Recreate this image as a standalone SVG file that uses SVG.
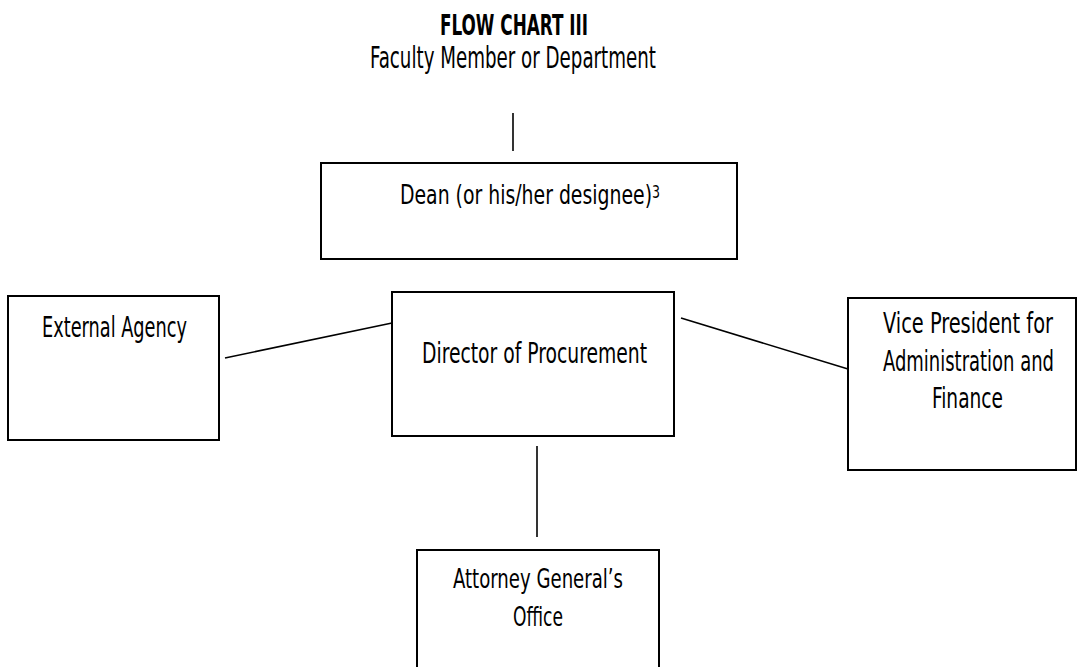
<svg xmlns="http://www.w3.org/2000/svg" width="1077" height="667" viewBox="0 0 1077 667">
<style>
  .box { fill: #ffffff; stroke: #000000; stroke-width: 2; }
  .conn { stroke: #000000; stroke-width: 1.6; fill: none; }
  .t { font-family: "Liberation Sans Narrow", "DejaVu Sans Condensed", "Liberation Sans", sans-serif; font-size: 21px; fill: #000000; }
  .title { font-weight: bold; font-size: 19px; }
  .sup { font-size: 14px; }
</style>
<rect x="0" y="0" width="1077" height="667" fill="#ffffff"/>
<g id="title">
  <text class="t title" transform="translate(440 35) scale(1 1.45)" textLength="148" lengthAdjust="spacingAndGlyphs">FLOW CHART III</text>
</g>
<g id="faculty">
  <text class="t" transform="translate(370 68) scale(1 1.42)" textLength="286" lengthAdjust="spacingAndGlyphs">Faculty Member or Department</text>
</g>
<g id="dean">
  <rect class="box" x="321" y="163" width="416" height="96"/>
  <text class="t" transform="translate(400 204) scale(1 1.27)" textLength="260" lengthAdjust="spacingAndGlyphs">Dean (or his/her designee)<tspan class="sup" dy="-4.5">3</tspan></text>
</g>
<g id="external">
  <rect class="box" x="8" y="296" width="211" height="144"/>
  <text class="t" transform="translate(42 337) scale(1 1.37)" textLength="145" lengthAdjust="spacingAndGlyphs">External Agency</text>
</g>
<g id="director">
  <rect class="box" x="392" y="292" width="282" height="144"/>
  <text class="t" transform="translate(422 363) scale(1 1.37)" textLength="225" lengthAdjust="spacingAndGlyphs">Director of Procurement</text>
</g>
<g id="vp">
  <rect class="box" x="848" y="298" width="228" height="172"/>
  <text class="t" transform="translate(883 333) scale(1 1.38)" textLength="170" lengthAdjust="spacingAndGlyphs">Vice President for</text>
  <text class="t" transform="translate(883 371) scale(1 1.38)" textLength="171" lengthAdjust="spacingAndGlyphs">Administration and</text>
  <text class="t" transform="translate(932 408) scale(1 1.38)" textLength="71" lengthAdjust="spacingAndGlyphs">Finance</text>
</g>
<g id="attorney">
  <rect class="box" x="417" y="550" width="242" height="130"/>
  <text class="t" transform="translate(453 588) scale(1 1.28)" textLength="170" lengthAdjust="spacingAndGlyphs">Attorney General’s</text>
  <text class="t" transform="translate(513 626) scale(1 1.28)" textLength="50" lengthAdjust="spacingAndGlyphs">Office</text>
</g>
<g id="connectors">
  <line class="conn" x1="513" y1="113" x2="513" y2="151"/>
  <line class="conn" x1="225" y1="358" x2="392" y2="323"/>
  <line class="conn" x1="681" y1="318" x2="848" y2="369"/>
  <line class="conn" x1="537" y1="446" x2="537" y2="537"/>
</g>
</svg>
